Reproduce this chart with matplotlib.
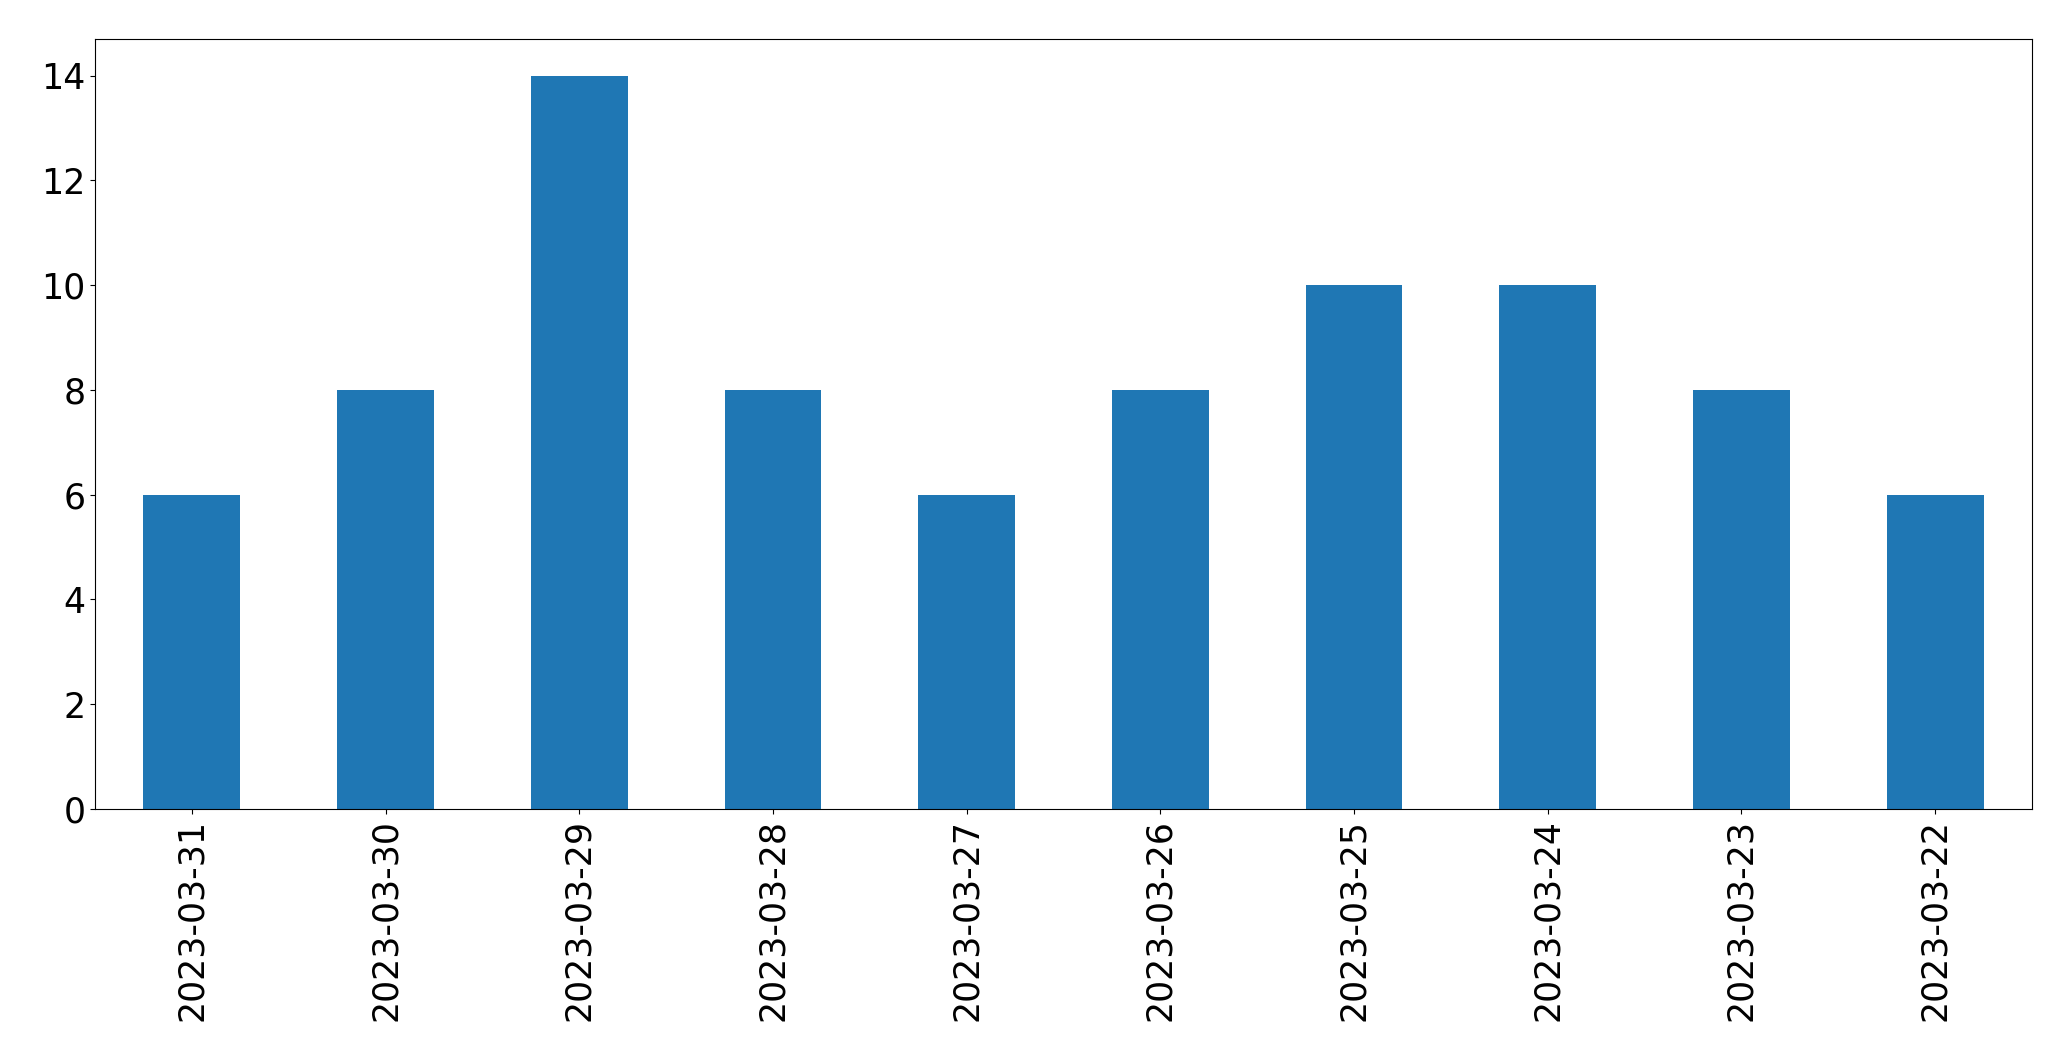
import matplotlib
matplotlib.use("Agg")
from matplotlib import pyplot as plt
import numpy as np

dates = ['2023-03-31', '2023-03-30', '2023-03-29', '2023-03-28', '2023-03-27',
         '2023-03-26', '2023-03-25', '2023-03-24', '2023-03-23', '2023-03-22']
counts = [6, 8, 14, 8, 6, 8, 10, 10, 8, 6]

fig = plt.figure(figsize=(20.71, 10.61), dpi=100)
ax = fig.add_axes([95 / 2071, 1 - 809 / 1061, (2032 - 95) / 2071, (809 - 39) / 1061])
x = np.arange(len(dates))
ax.bar(x, counts, width=0.5, color='#1f77b4')
ax.set_xlim(-0.5, len(dates) - 0.5)
ax.set_xticks(x)
ax.set_xticklabels(dates, rotation=90)
ax.tick_params(labelsize=25)
plt.savefig('out.png', dpi=100)
